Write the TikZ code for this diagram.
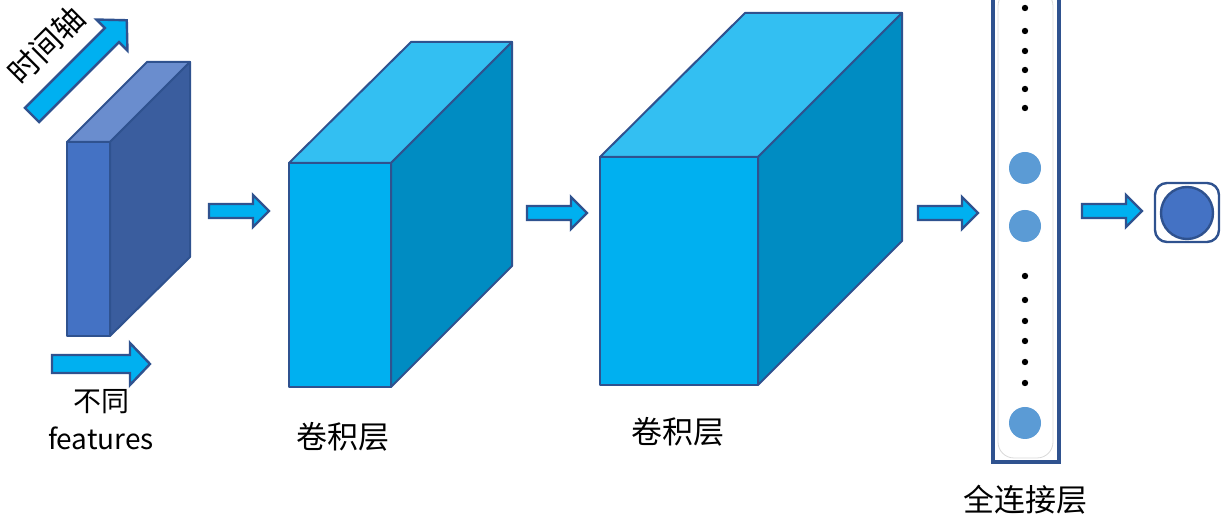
\documentclass[tikz,border=0pt]{standalone}
\usepackage{fontspec}
\setmainfont{Noto Sans CJK SC}
\usetikzlibrary{calc}
\definecolor{edgeblue}{HTML}{2F528F}
\definecolor{arrowfill}{HTML}{00B0F0}
\definecolor{slabfront}{HTML}{4472C4}
\definecolor{slabtop}{HTML}{6A8DCE}
\definecolor{slabside}{HTML}{3A5D9E}
\definecolor{boxtop}{HTML}{33BFF2}
\definecolor{boxside}{HTML}{008CC2}
\definecolor{neuron}{HTML}{5B9BD5}
\tikzset{
  face/.style={draw=edgeblue, line width=1pt, line join=round},
  arrowbox/.style={draw=edgeblue, fill=arrowfill, line width=1.2pt, line join=miter},
  lbl/.style={font=\fontsize{15.5}{18}\selectfont, inner sep=0pt}
}
\def\blockarrow(#1)(#2:#3)[#4:#5:#6]{\draw[arrowbox,shift={(#1)},rotate=#2] (0,-#4) -- ({#3-#6},-#4) -- ({#3-#6},-#5) -- (#3,0) -- ({#3-#6},#5) -- ({#3-#6},#4) -- (0,#4) -- cycle;}

\begin{document}
\begin{tikzpicture}[x=0.5pt, y=-0.5pt]
		\useasboundingbox (0,0) rectangle (1222,517);
		
		%%%%% input slab %%%%%
		\draw[face, fill=slabfront] (67,142) rectangle (110,336);
		\draw[face, fill=slabtop] (67,142) -- (147,62) -- (190,62) -- (110,142) -- cycle;
		\draw[face, fill=slabside] (110,142) -- (190,62) -- (190,257) -- (110,336) -- cycle;
		
		\blockarrow(32,115)(45:134)[10:22:21]
		\node[lbl, rotate=45] (timeaxis) at (46,45) {时间轴};
		
		\blockarrow(52,364)(0:98)[9:21:20]
		\node[lbl, font=\fontsize{14}{16}\selectfont] (diff) at (101,402) {不同};
		\node[lbl, font=\fontsize{14}{16}\selectfont] (features) at (101,438) {features};
		
		%%%%% conv 1 %%%%%
		\blockarrow(209,211)(0:60)[7:16:16]
		\draw[face, fill=arrowfill] (289,163) rectangle (391,387);
		\draw[face, fill=boxtop] (289,163) -- (411,42) -- (512,42) -- (391,163) -- cycle;
		\draw[face, fill=boxside] (391,163) -- (512,42) -- (512,266) -- (391,387) -- cycle;
		\node[lbl] (convone) at (343,437) {卷积层};
		
		%%%%% conv 2 %%%%%
		\blockarrow(527,213)(0:60)[7:16:16]
		\draw[face, fill=arrowfill] (600,157) rectangle (758,385);
		\draw[face, fill=boxtop] (600,157) -- (745,13) -- (902,13) -- (758,157) -- cycle;
		\draw[face, fill=boxside] (758,157) -- (902,13) -- (902,241) -- (758,385) -- cycle;
		\node[lbl] (convtwo) at (678,432) {卷积层};
		
		%%%%% fully connected %%%%%
		\blockarrow(918,213)(0:60)[7:16:16]
		\draw[edgeblue, line width=1.6pt] (993,-10) rectangle (1059,462);
		\draw[gray!30, fill=white, rounded corners=8pt] (998,-10) rectangle (1053,458);
		\foreach \y in {8,31,51,70,89,108,276,300,321,341,362,383}
			\fill (1025,\y) circle (3.2);
		\foreach \y in {168,226,423}
			\fill[neuron] (1025,\y) circle (16);
		\node[lbl] (fclayer) at (1025,500) {全连接层};
		
		%%%%% output %%%%%
		\blockarrow(1082,211)(0:60)[7:16:16]
		\draw[edgeblue, line width=1.2pt, rounded corners=6pt] (1155,183) rectangle (1219,242);
		\draw[edgeblue, line width=1.2pt, fill=slabfront] (1187,213) circle (26);
		
\end{tikzpicture}
\end{document}
